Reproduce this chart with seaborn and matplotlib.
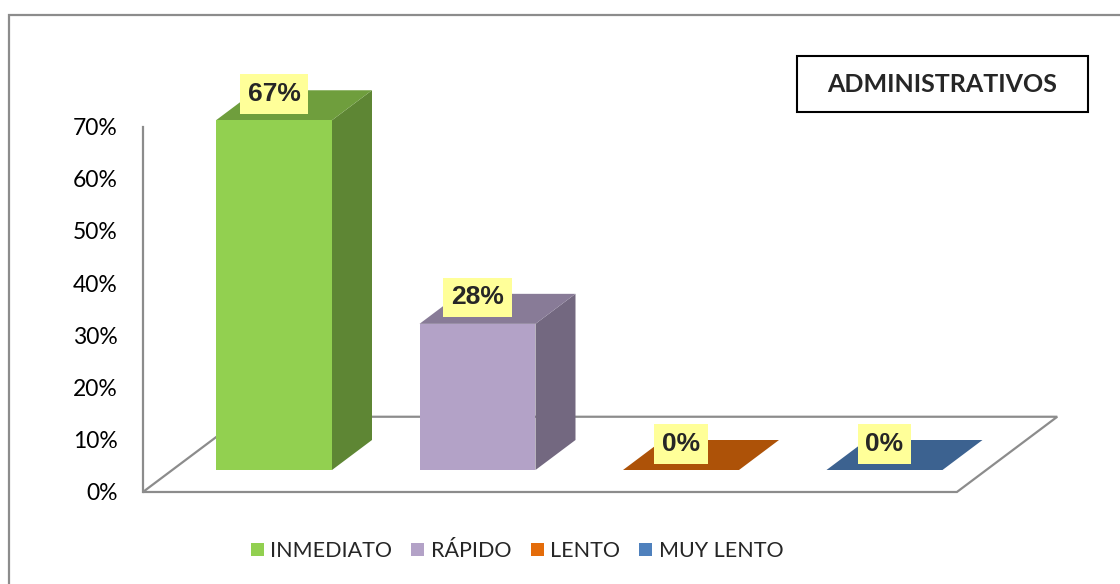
import matplotlib
matplotlib.use("Agg")
import matplotlib.pyplot as plt
from matplotlib.patches import Polygon, Rectangle, Patch
from matplotlib.colors import to_rgb
import pandas as pd
import seaborn as sns

# Data
categories = ["INMEDIATO", "RÁPIDO", "LENTO", "MUY LENTO"]
values = [67, 28, 0, 0]
colors = ["#92D050", "#B3A2C7", "#E46C0A", "#4F81BD"]
y_ticks = [0, 10, 20, 30, 40, 50, 60, 70]
tick_labels = [f"{t}%" for t in y_ticks]
title = "ADMINISTRATIVOS"

sns.set_style("white")
plt.rcParams["font.family"] = ["Lato", "DejaVu Sans"]

W, H = 1120, 584
fig = plt.figure(figsize=(W / 100, H / 100), dpi=100)
ax = fig.add_axes([0, 0, 1, 1])

df = pd.DataFrame({"cat": categories, "val": values})
palette = dict(zip(categories, colors))
sns.barplot(data=df, x="cat", y="val", hue="cat", palette=palette,
            width=0.57, saturation=1, linewidth=0, legend=False, ax=ax)

# pixel scale of the bar plane: 203.5 px per category, 5.22 px per percent
PX_CAT, PX_PCT = 203.5, 5.22
X0_PX, Y0_PX = 274, 470
ax.set_xlim(-X0_PX / PX_CAT, (W - X0_PX) / PX_CAT)
ax.set_ylim(-(H - Y0_PX) / PX_PCT, Y0_PX / PX_PCT)
ax.set_axis_off()

# oblique depth projection
DX, DY = 40 / PX_CAT, 30 / PX_PCT
D_FRONT, D_BACK = -0.733, 1.775


def proj(x, y, d):
    return (x + d * DX, y + d * DY)


def shade(c, k):
    r, g, b = to_rgb(c)
    return (r * k, g * k, b * k)


# floor
floor = [proj(-0.5, 0, D_FRONT), proj(3.5, 0, D_FRONT),
         proj(3.5, 0, D_BACK), proj(-0.5, 0, D_BACK)]
ax.add_patch(Polygon(floor, closed=True, fc="white", ec="#8C8C8C",
                     lw=1.6, zorder=0.5))

# tops and sides of each bar
for p in list(ax.patches):
    if not isinstance(p, Rectangle):
        continue
    x0, w, h = p.get_x(), p.get_width(), p.get_height()
    idx = int(round(x0 + w / 2))
    base = colors[idx]
    p.set_zorder(2)
    top = [proj(x0, h, 0), proj(x0 + w, h, 0), proj(x0 + w, h, 1), proj(x0, h, 1)]
    side = [proj(x0 + w, 0, 0), proj(x0 + w, h, 0), proj(x0 + w, h, 1), proj(x0 + w, 0, 1)]
    ax.add_patch(Polygon(side, closed=True, fc=shade(base, 0.645), ec="none", zorder=1.5))
    ax.add_patch(Polygon(top, closed=True, fc=shade(base, 0.76), ec="none", zorder=1.6))
    ax.annotate(f"{values[idx]}%", xy=(x0 + w / 2, h), xytext=(0, 19),
                textcoords="offset points", ha="center", va="center",
                fontsize=19, fontweight="bold",
                family=["Liberation Sans", "DejaVu Sans"],
                bbox=dict(boxstyle="square,pad=0.3", fc="#FFFF99", ec="none"),
                zorder=6)

# value axis in the front plane of the floor
to_fig = ax.transData + fig.transFigure.inverted()
fx, fy0 = to_fig.transform(proj(-0.5, 0, D_FRONT))
_, fy1 = to_fig.transform(proj(-0.5, y_ticks[-1], D_FRONT))
yax = fig.add_axes([fx, fy0, 0.001, fy1 - fy0])
yax.patch.set_visible(False)
yax.set_ylim(0, y_ticks[-1])
yax.set_yticks(y_ticks)
yax.set_yticklabels(tick_labels)
yax.set_xticks([])
for s in ["top", "right", "bottom"]:
    yax.spines[s].set_visible(False)
yax.spines["left"].set_color("#8C8C8C")
yax.spines["left"].set_linewidth(1.6)
yax.tick_params(axis="y", length=0, pad=18, labelsize=16.5, colors="black")

# legend
handles = [Patch(fc=c, ec="none", label=l) for l, c in zip(categories, colors)]
ax.legend(handles=handles, loc="center", bbox_to_anchor=(517 / W, 1 - 551 / H),
          ncol=4, frameon=False, handlelength=0.6, handleheight=0.6,
          handletextpad=0.3, columnspacing=0.9,
          prop={"family": ["Lato", "DejaVu Sans"], "size": 15.5})

# title box
fig.add_artist(Rectangle((797 / W, 1 - 112 / H), 291 / W, 56 / H,
                         transform=fig.transFigure, fill=False, ec="black", lw=1.5))
fig.text((797 + 1088) / 2 / W, 1 - 84 / H, title, ha="center", va="center",
         fontsize=18, fontweight="bold")

# outer frame of the chart area
fig.add_artist(Rectangle((9 / W, -0.1), 1.2, 1.1 - 15.5 / H,
                         transform=fig.transFigure, fill=False, ec="#8C8C8C", lw=1.6))

fig.savefig("out.png", dpi=100, facecolor="white")
